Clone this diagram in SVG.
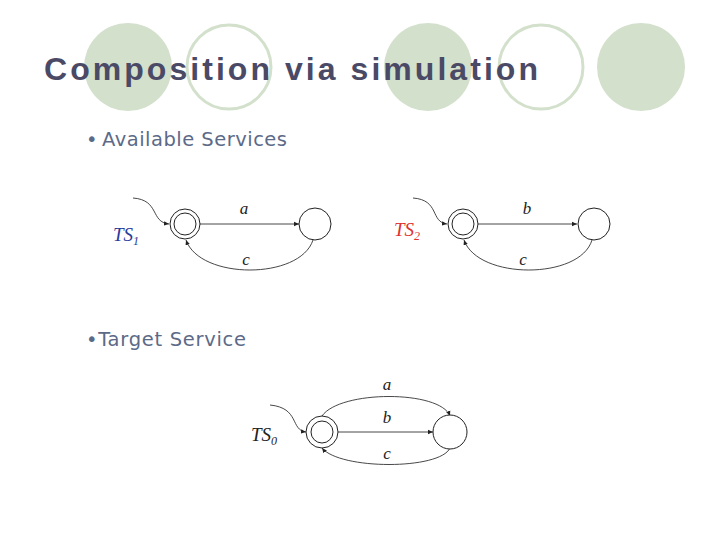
<svg xmlns="http://www.w3.org/2000/svg" width="720" height="540" viewBox="0 0 720 540">
<style>
.bf{fill:#d3e0cc}
.bo{fill:#fff;stroke:#d3e0cc;stroke-width:3}
.st{fill:#fff;stroke:#222;stroke-width:1}
.e{fill:none;stroke:#333;stroke-width:0.9}
.lb{font-family:'Liberation Serif',serif;font-style:italic;font-size:17px;fill:#222}
.bul{font-family:'DejaVu Sans',sans-serif;font-size:19.5px;fill:#5c6a88}
</style>
<defs><marker id="ar" markerWidth="6" markerHeight="6" refX="5" refY="3" orient="auto" markerUnits="userSpaceOnUse"><path d="M0,0.8 L5,3 L0,5.2z" fill="#222"/></marker></defs>
<rect width="720" height="540" fill="#fff"/>
<g id="bg">
<circle class="bf" cx="128" cy="67" r="44"/>
<circle class="bo" cx="229" cy="67" r="42"/>
<circle class="bf" cx="428" cy="67" r="44"/>
<circle class="bo" cx="541" cy="67" r="42"/>
<circle class="bf" cx="641" cy="67" r="44"/>
</g>
<text x="44" y="80" font-family="Liberation Sans,Arial,sans-serif" font-weight="bold" font-size="32" fill="#4a4a66" textLength="494" lengthAdjust="spacing">Composition via simulation</text>
<text x="86" y="146" class="bul">•</text><text x="102" y="146" class="bul" textLength="185" lengthAdjust="spacing">Available Services</text>
<text x="86" y="346" class="bul" textLength="160" lengthAdjust="spacing">•Target Service</text>
<g id="connectors">
<path class="e" d="M133,198 C160,200 150,222 169,224" marker-end="url(#ar)"/>
<path class="e" d="M200,224 L299,224" marker-end="url(#ar)"/>
<path class="e" d="M313,240 C300,280 200,280 186,240" marker-end="url(#ar)"/>
<path class="e" d="M413,198 C440,200 430,222 447,224" marker-end="url(#ar)"/>
<path class="e" d="M478,224 L577,224" marker-end="url(#ar)"/>
<path class="e" d="M592,240 C580,280 478,280 464,240" marker-end="url(#ar)"/>
<path class="e" d="M270,405 C300,408 290,430 306,432" marker-end="url(#ar)"/>
<path class="e" d="M322,416 C340,390 440,390 450,416" marker-end="url(#ar)"/>
<path class="e" d="M338,432 L433,432" marker-end="url(#ar)"/>
<path class="e" d="M450,448 C440,470 340,470 322,448" marker-end="url(#ar)"/>
</g>
<g id="ts1">
<circle class="st" cx="185" cy="224" r="15"/><circle class="st" cx="185" cy="224" r="11"/>
<text x="113" y="241" font-family="Liberation Serif,serif" font-style="italic" font-size="19" fill="#2a3a9a">TS<tspan font-size="12" dy="4">1</tspan></text>
</g>
<g id="ts1b"><circle class="st" cx="315" cy="224" r="16"/></g>
<text class="lb" x="244" y="214" text-anchor="middle">a</text>
<text class="lb" x="246" y="265" text-anchor="middle">c</text>
<g id="ts2">
<circle class="st" cx="463" cy="224" r="15"/><circle class="st" cx="463" cy="224" r="11"/>
<text x="394" y="236" font-family="Liberation Serif,serif" font-style="italic" font-size="19" fill="#e03030">TS<tspan font-size="12" dy="4">2</tspan></text>
</g>
<g id="ts2b"><circle class="st" cx="594" cy="224" r="16"/></g>
<text class="lb" x="527" y="214" text-anchor="middle">b</text>
<text class="lb" x="523" y="265" text-anchor="middle">c</text>
<g id="ts0">
<circle class="st" cx="322" cy="432" r="16"/><circle class="st" cx="322" cy="432" r="11"/>
<text x="251" y="441" font-family="Liberation Serif,serif" font-style="italic" font-size="19" fill="#222">TS<tspan font-size="12" dy="4">0</tspan></text>
</g>
<g id="ts0b"><circle class="st" cx="450" cy="432" r="17"/></g>
<text class="lb" x="387" y="390" text-anchor="middle">a</text>
<text class="lb" x="387" y="423" text-anchor="middle">b</text>
<text class="lb" x="387" y="459" text-anchor="middle">c</text>
</svg>
